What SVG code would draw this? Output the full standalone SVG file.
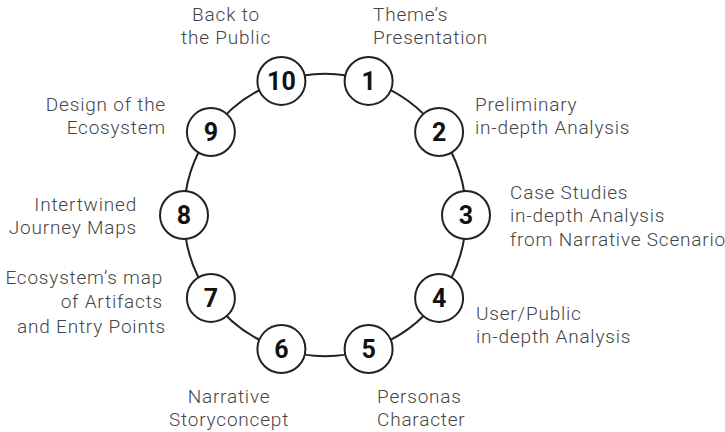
<svg xmlns="http://www.w3.org/2000/svg" width="725" height="432" viewBox="0 0 725 432">
<style>
.lbl{font-family:"Roboto","Liberation Sans",sans-serif;font-size:19px;font-weight:300;fill:#454545;letter-spacing:0.8px}
.num{font-family:"Roboto","Liberation Sans",sans-serif;font-size:25px;font-weight:bold;fill:#111;text-anchor:middle}
.node circle{fill:#fff;stroke:#222;stroke-width:2}
.conn path{fill:none;stroke:#222;stroke-width:2}
.e{text-anchor:end}.m{text-anchor:middle}
</style>
<g id="connectors" class="conn">
<path d="M368.6 80.9 A141 141 0 0 1 439.1 132.1"/>
<path d="M439.1 132.1 A141 141 0 0 1 466 215"/>
<path d="M466 215 A141 141 0 0 1 439.1 297.9"/>
<path d="M439.1 297.9 A141 141 0 0 1 368.6 349.1"/>
<path d="M368.6 349.1 A141 141 0 0 1 281.4 349.1"/>
<path d="M281.4 349.1 A141 141 0 0 1 210.9 297.9"/>
<path d="M210.9 297.9 A141 141 0 0 1 184 215"/>
<path d="M184 215 A141 141 0 0 1 210.9 132.1"/>
<path d="M210.9 132.1 A141 141 0 0 1 281.4 80.9"/>
<path d="M281.4 80.9 A141 141 0 0 1 368.6 80.9"/>
</g>
<g id="node1" class="node"><circle cx="368.6" cy="80.9" r="24"/><text class="num" x="368.6" y="89.8">1</text>
<text class="lbl" x="373" y="21">Theme’s</text><text class="lbl" x="373" y="44">Presentation</text></g>
<g id="node2" class="node"><circle cx="439.1" cy="132.1" r="24"/><text class="num" x="439.1" y="141">2</text>
<text class="lbl" x="475" y="111">Preliminary</text><text class="lbl" x="475" y="134">in-depth Analysis</text></g>
<g id="node3" class="node"><circle cx="466" cy="215" r="24"/><text class="num" x="466" y="223.9">3</text>
<text class="lbl" x="510" y="199">Case Studies</text><text class="lbl" x="510" y="222">in-depth Analysis</text><text class="lbl" x="510" y="246">from Narrative Scenario</text></g>
<g id="node4" class="node"><circle cx="439.1" cy="297.9" r="24"/><text class="num" x="439.1" y="306.8">4</text>
<text class="lbl" x="476" y="320">User/Public</text><text class="lbl" x="476" y="343">in-depth Analysis</text></g>
<g id="node5" class="node"><circle cx="368.6" cy="349.1" r="24"/><text class="num" x="368.6" y="358">5</text>
<text class="lbl" x="377" y="403">Personas</text><text class="lbl" x="377" y="426">Character</text></g>
<g id="node6" class="node"><circle cx="281.4" cy="349.1" r="24"/><text class="num" x="281.4" y="358">6</text>
<text class="lbl m" x="229" y="403">Narrative</text><text class="lbl m" x="229" y="426">Storyconcept</text></g>
<g id="node7" class="node"><circle cx="210.9" cy="297.9" r="24"/><text class="num" x="210.9" y="306.8">7</text>
<text class="lbl e" x="163" y="284">Ecosystem’s map</text><text class="lbl e" x="163" y="308">of Artifacts</text><text class="lbl e" x="166" y="333">and Entry Points</text></g>
<g id="node8" class="node"><circle cx="184" cy="215" r="24"/><text class="num" x="184" y="223.9">8</text>
<text class="lbl e" x="137" y="211">Intertwined</text><text class="lbl e" x="137" y="234">Journey Maps</text></g>
<g id="node9" class="node"><circle cx="210.9" cy="132.1" r="24"/><text class="num" x="210.9" y="141">9</text>
<text class="lbl e" x="166" y="111">Design of the</text><text class="lbl e" x="166" y="134">Ecosystem</text></g>
<g id="node10" class="node"><circle cx="281.4" cy="80.9" r="24"/><text class="num" x="281.4" y="89.8">10</text>
<text class="lbl m" x="226" y="21">Back to</text><text class="lbl m" x="226" y="44">the Public</text></g>
</svg>
